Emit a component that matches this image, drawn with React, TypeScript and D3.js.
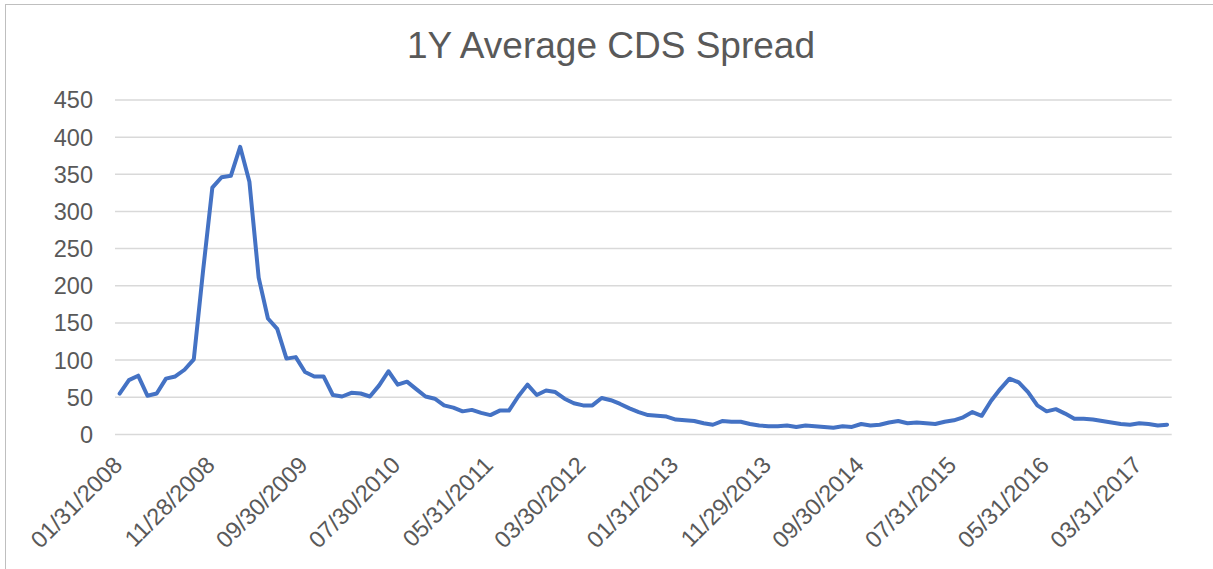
import React, { useEffect, useRef } from 'react';
import * as d3 from 'd3';

// monthly observations, Jan 2008 .. Jun 2017 (month-end business days)
const startMonth = new Date(2008, 0, 1);
const monthCount = 114;

const spreadValues: number[] = [
	55, 73, 79, 52, 55, 75, 78, 87, 101, 220,
	332, 346, 348, 387, 340, 211, 156, 142, 102, 104,
	84, 78, 78, 53, 51, 56, 55, 51, 66, 85,
	67, 71, 61, 51, 48, 39, 36, 31, 33, 29,
	26, 32, 32, 51, 67, 53, 59, 57, 48, 42,
	39, 39, 49, 46, 41, 35, 30, 26, 25, 24,
	20, 19, 18, 15, 13, 18, 17, 17, 14, 12,
	11, 11, 12, 10, 12, 11, 10, 9, 11, 10,
	14, 12, 13, 16, 18, 15, 16, 15, 14, 17,
	19, 23, 30, 25, 45, 61, 75, 70, 57, 39,
	31, 34, 28, 21, 21, 20, 18, 16, 14, 13,
	15, 14, 12, 13,
];

const yTicks = [0, 50, 100, 150, 200, 250, 300, 350, 400, 450];
const labelEvery = 10;

const fmt = d3.timeFormat('%m/%d/%Y');

// last weekday of each month
const categories: string[] = d3.timeMonth
	.range(startMonth, d3.timeMonth.offset(startMonth, monthCount))
	.map((m) => {
		let d = d3.timeDay.offset(d3.timeMonth.offset(m, 1), -1);
		while (d.getDay() === 0 || d.getDay() === 6) d = d3.timeDay.offset(d, -1);
		return fmt(d);
	});

const W = 1213;
const H = 569;
const plot = { left: 115, right: 1171.7, top: 100, bottom: 434.4 };
const textColor = '#595959';
const font = '"Liberation Sans", Arial, sans-serif';

const drawChart = (element: SVGSVGElement) => {
	const svg = d3.select(element);
	svg.selectAll('*').remove();

	svg.append('rect')
		.attr('x', 5.5).attr('y', 4.5)
		.attr('width', W + 20).attr('height', H + 20)
		.attr('fill', '#fff')
		.attr('stroke', '#bfbfbf')
		.attr('stroke-width', 1);

	const x = d3.scalePoint<string>().domain(categories).range([plot.left, plot.right]).padding(0.5);
	const y = d3.scaleLinear().domain([0, 450]).range([plot.bottom, plot.top]);

	svg.append('text')
		.attr('x', 611).attr('y', 58)
		.attr('text-anchor', 'middle')
		.style('font-family', font)
		.style('font-size', '37px')
		.style('fill', textColor)
		.text('1Y Average CDS Spread');

	// gridlines
	svg.append('g')
		.selectAll('line')
		.data(yTicks)
		.enter()
		.append('line')
		.attr('x1', plot.left).attr('x2', plot.right)
		.attr('y1', (d) => y(d)).attr('y2', (d) => y(d))
		.attr('stroke', '#d9d9d9')
		.attr('stroke-width', 1.5);

	// y labels
	svg.append('g')
		.selectAll('text')
		.data(yTicks)
		.enter()
		.append('text')
		.attr('x', 93).attr('y', (d) => y(d))
		.attr('dy', '0.36em')
		.attr('text-anchor', 'end')
		.style('font-family', font)
		.style('font-size', '23.5px')
		.style('fill', textColor)
		.text((d) => d);

	// x labels
	const shown = categories.filter((_, i) => i % labelEvery === 0);
	svg.append('g')
		.selectAll('text')
		.data(shown)
		.enter()
		.append('text')
		.attr('text-anchor', 'end')
		.attr('transform', (d) => `translate(${(x(d) as number) + 4}, ${plot.bottom + 32}) rotate(-45)`)
		.style('font-family', font)
		.style('font-size', '23.5px')
		.style('fill', textColor)
		.text((d) => d);

	const line = d3.line<number>()
		.x((_, i) => x(categories[i]) as number)
		.y((d) => y(d));

	svg.append('path')
		.datum(spreadValues)
		.attr('d', line)
		.attr('fill', 'none')
		.attr('stroke', '#4472c4')
		.attr('stroke-width', 4)
		.attr('stroke-linejoin', 'round')
		.attr('stroke-linecap', 'round');
};

export default function App() {
	const ref = useRef<SVGSVGElement>(null);

	useEffect(() => {
		if (ref.current) drawChart(ref.current);
	}, []);

	return (
		<>
			<style>{'body{margin:0}'}</style>
			<svg ref={ref} width={W} height={H} style={{ display: 'block' }} />
		</>
	);
}
